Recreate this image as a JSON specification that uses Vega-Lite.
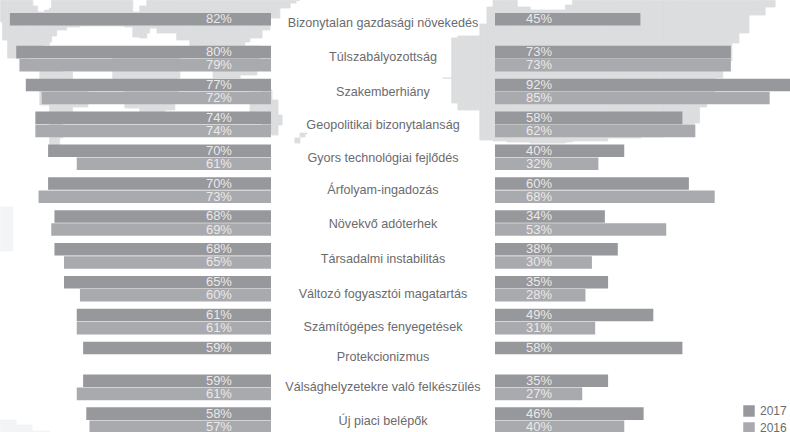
{
"$schema":"https://vega.github.io/schema/vega-lite/v6.json",
"padding":0,
"autosize":{"type":"pad"},
"background":"white",
"bounds":"flush",
"resolve":{"scale":{"color":"independent"}},
"config":{"view":{"stroke":null},"concat":{"spacing":0},"text":{"font":"Liberation Sans"}},
"datasets":{
"rows":[
{"item":"Bizonytalan gazdasági növekedés","year":"2017","left":0.82,"right":0.45},
{"item":"Túlszabályozottság","year":"2017","left":0.80,"right":0.73},
{"item":"Túlszabályozottság","year":"2016","left":0.79,"right":0.73},
{"item":"Szakemberhiány","year":"2017","left":0.77,"right":0.92},
{"item":"Szakemberhiány","year":"2016","left":0.72,"right":0.85},
{"item":"Geopolitikai bizonytalanság","year":"2017","left":0.74,"right":0.58},
{"item":"Geopolitikai bizonytalanság","year":"2016","left":0.74,"right":0.62},
{"item":"Gyors technológiai fejlődés","year":"2017","left":0.70,"right":0.40},
{"item":"Gyors technológiai fejlődés","year":"2016","left":0.61,"right":0.32},
{"item":"Árfolyam-ingadozás","year":"2017","left":0.70,"right":0.60},
{"item":"Árfolyam-ingadozás","year":"2016","left":0.73,"right":0.68},
{"item":"Növekvő adóterhek","year":"2017","left":0.68,"right":0.34},
{"item":"Növekvő adóterhek","year":"2016","left":0.69,"right":0.53},
{"item":"Társadalmi instabilitás","year":"2017","left":0.68,"right":0.38},
{"item":"Társadalmi instabilitás","year":"2016","left":0.65,"right":0.30},
{"item":"Változó fogyasztói magatartás","year":"2017","left":0.65,"right":0.35},
{"item":"Változó fogyasztói magatartás","year":"2016","left":0.60,"right":0.28},
{"item":"Számítógépes fenyegetések","year":"2017","left":0.61,"right":0.49},
{"item":"Számítógépes fenyegetések","year":"2016","left":0.61,"right":0.31},
{"item":"Protekcionizmus","year":"2017","left":0.59,"right":0.58},
{"item":"Válsághelyzetekre való felkészülés","year":"2017","left":0.59,"right":0.35},
{"item":"Válsághelyzetekre való felkészülés","year":"2016","left":0.61,"right":0.27},
{"item":"Új piaci belépők","year":"2017","left":0.58,"right":0.46},
{"item":"Új piaci belépők","year":"2016","left":0.57,"right":0.40}
],
"world":[
{"piece":"north","tone":"map","s":0.849,"t":-12.5,"b":2},
{"piece":"north","tone":"map","s":0.843,"t":-12.5,"b":9},
{"piece":"north","tone":"map","s":0.827,"t":-12.5,"b":27},
{"piece":"north","tone":"map","s":0.799,"t":-12.5,"b":45},
{"piece":"north","tone":"map","s":0.764,"t":-12.5,"b":45},
{"piece":"north","tone":"map","s":0.748,"t":-12.5,"b":43},
{"piece":"north","tone":"map","s":0.733,"t":-7,"b":41},
{"piece":"north","tone":"map","s":0.711,"t":-1,"b":35},
{"piece":"north","tone":"map","s":0.695,"t":-3,"b":32},
{"piece":"north","tone":"map","s":0.689,"t":-5,"b":29},
{"piece":"north","tone":"map","s":0.673,"t":-12.5,"b":23},
{"piece":"north","tone":"map","s":0.642,"t":-12.5,"b":17},
{"piece":"north","tone":"map","s":0.601,"t":-12.5,"b":14},
{"piece":"north","tone":"map","s":0.459,"t":-12.5,"b":13},
{"piece":"north","tone":"map","s":0.434,"t":-12.5,"b":14},
{"piece":"north","tone":"map","s":0.412,"t":-1,"b":24},
{"piece":"north","tone":"map","s":0.390,"t":-7,"b":25},
{"piece":"north","tone":"map","s":0.381,"t":-12.5,"b":20},
{"piece":"north","tone":"map","s":0.358,"t":-12.5,"b":15},
{"piece":"north","tone":"map","s":0.296,"t":-12.5,"b":20},
{"piece":"north","tone":"map","s":0.255,"t":-12.5,"b":27},
{"piece":"north","tone":"map","s":0.239,"t":-12.5,"b":33},
{"piece":"north","tone":"map","s":0.082,"t":-12.5,"b":33},
{"piece":"north","tone":"map","s":0.066,"t":-12.5,"b":29},
{"piece":"north","tone":"map","s":0.028,"t":-12.5,"b":25},
{"piece":"north","tone":"map","s":0.003,"t":-12.5,"b":17},
{"piece":"north","tone":"map","s":-0.028,"t":-12.5,"b":5},
{"piece":"north","tone":"map","s":-0.060,"t":-12.5,"b":-5},
{"piece":"north","tone":"map","s":-0.079,"t":-12.5,"b":-10},
{"piece":"north","tone":"map","s":-0.091,"t":-12.5,"b":-12.5},
{"piece":"americas","tone":"map","s":0.726,"t":57,"b":61},
{"piece":"americas","tone":"map","s":0.695,"t":55,"b":92},
{"piece":"americas","tone":"map","s":0.679,"t":55,"b":133},
{"piece":"americas","tone":"map","s":0.664,"t":55,"b":133},
{"piece":"americas","tone":"map","s":0.654,"t":57,"b":125},
{"piece":"americas","tone":"map","s":0.623,"t":59,"b":99},
{"piece":"americas","tone":"map","s":0.575,"t":77,"b":94},
{"piece":"americas","tone":"map","s":0.569,"t":82,"b":84},
{"piece":"africa","tone":"map","s":0.497,"t":47,"b":65},
{"piece":"africa","tone":"map","s":0.459,"t":37,"b":67},
{"piece":"africa","tone":"map","s":0.412,"t":37,"b":95},
{"piece":"africa","tone":"map","s":0.390,"t":37,"b":99},
{"piece":"africa","tone":"map","s":0.333,"t":37,"b":100},
{"piece":"africa","tone":"map","s":0.302,"t":37,"b":97},
{"piece":"africa","tone":"map","s":0.292,"t":37,"b":87},
{"piece":"africa","tone":"map","s":0.286,"t":37,"b":65},
{"piece":"seasia","tone":"map","s":0.182,"t":33,"b":63},
{"piece":"seasia","tone":"map","s":0.145,"t":33,"b":65},
{"piece":"seasia","tone":"map","s":0.097,"t":33,"b":65},
{"piece":"seasia","tone":"map","s":0.044,"t":33,"b":62},
{"piece":"seasia","tone":"map","s":0.035,"t":33,"b":47},
{"piece":"australia","tone":"map","s":0.066,"t":90,"b":99},
{"piece":"australia","tone":"map","s":0.028,"t":79,"b":109},
{"piece":"australia","tone":"map","s":-0.003,"t":77,"b":121},
{"piece":"australia","tone":"map","s":-0.022,"t":87,"b":122},
{"piece":"australia","tone":"map","s":-0.035,"t":102,"b":112},
{"piece":"nz","tone":"map","s":-0.075,"t":130,"b":133},
{"piece":"nz","tone":"map","s":-0.091,"t":125,"b":130},
{"piece":"nz","tone":"map","s":-0.107,"t":120,"b":124},
{"piece":"nz","tone":"map","s":-0.113,"t":120,"b":121},
{"piece":"hex1","tone":"pale","s":0.849,"t":190,"b":252},
{"piece":"hex1","tone":"pale","s":0.811,"t":194,"b":238},
{"piece":"hex2","tone":"pale","s":0.849,"t":402,"b":419},
{"piece":"hex2","tone":"pale","s":0.800,"t":407,"b":419},
{"piece":"hex2","tone":"pale","s":0.750,"t":412,"b":419},
{"piece":"hex2","tone":"pale","s":0.695,"t":418,"b":419}
],
"hungary":[
{"piece":"hu","s":-0.162,"t":65,"b":65},
{"piece":"hu","s":-0.134,"t":25,"b":90},
{"piece":"hu","s":-0.115,"t":23,"b":97},
{"piece":"hu","s":-0.047,"t":11,"b":127},
{"piece":"hu","s":-0.025,"t":-6,"b":127},
{"piece":"hu","s":-0.006,"t":-12.5,"b":128},
{"piece":"hu","s":0.037,"t":-12.5,"b":129},
{"piece":"hu","s":0.069,"t":-6,"b":129},
{"piece":"hu","s":0.109,"t":-3,"b":130},
{"piece":"hu","s":0.171,"t":-3,"b":130},
{"piece":"hu","s":0.218,"t":-8,"b":129},
{"piece":"hu","s":0.240,"t":-12.5,"b":128},
{"piece":"hu","s":0.349,"t":-12.5,"b":125},
{"piece":"hu","s":0.452,"t":-12.5,"b":124},
{"piece":"hu","s":0.524,"t":-12.5,"b":120},
{"piece":"hu","s":0.617,"t":-12.5,"b":110},
{"piece":"hu","s":0.633,"t":-12.5,"b":94},
{"piece":"hu","s":0.655,"t":-12.5,"b":80},
{"piece":"hu","s":0.680,"t":-12.5,"b":65},
{"piece":"hu","s":0.705,"t":-12.5,"b":48},
{"piece":"hu","s":0.733,"t":-12.5,"b":30},
{"piece":"hu","s":0.755,"t":-12.5,"b":20},
{"piece":"hu","s":0.786,"t":-12.5,"b":2},
{"piece":"hu","s":0.836,"t":-12.5,"b":-6},
{"piece":"hu","s":0.867,"t":-12.5,"b":-12.5}
]
},
"data":{"name":"rows"},
"hconcat":[
{"width":271,"height":420,
 "resolve":{"scale":{"y":"independent"}},
 "layer":[
  {"data":{"name":"world"},"transform":[{"filter":"datum.tone==='pale'"},{"window":[{"op":"lead","field":"s","as":"s2"}],"groupby":["piece"],"sort":[{"field":"s","order":"ascending"}]},{"filter":"datum.s2!=null"}],
   "mark":{"type":"rect","color":"#f3f4f6","stroke":"#f3f4f6","strokeWidth":0.8},
   "encoding":{
    "x":{"field":"s","type":"quantitative","axis":null,"scale":{"domain":[0,0.851],"reverse":true,"nice":false}},
    "x2":{"field":"s2"},
    "y":{"field":"t","type":"quantitative","axis":null,"scale":{"domain":[0,420],"reverse":true,"nice":false,"zero":false}},
    "y2":{"field":"b"}}},
  {"data":{"name":"world"},"transform":[{"filter":"datum.tone==='map'"},{"window":[{"op":"lead","field":"s","as":"s2"}],"groupby":["piece"],"sort":[{"field":"s","order":"ascending"}]},{"filter":"datum.s2!=null"}],
   "mark":{"type":"rect","color":"#dcddde","stroke":"#dcddde","strokeWidth":0.8},
   "encoding":{
    "x":{"field":"s","type":"quantitative","axis":null},
    "x2":{"field":"s2"},
    "y":{"field":"t","type":"quantitative","axis":null,"scale":{"domain":[0,420],"reverse":true,"nice":false,"zero":false}},
    "y2":{"field":"b"}}},
  {"layer":[
   {"mark":{"type":"bar"},"encoding":{
    "y":{"field":"item","type":"nominal","sort":null,"axis":null,"scale":{"paddingInner":0.22,"paddingOuter":0}},
    "yOffset":{"field":"year","type":"nominal","sort":["2017","2016"],"scale":{"paddingInner":0.04}},
    "x":{"field":"left","type":"quantitative","axis":null},
    "color":{"field":"year","type":"nominal","legend":null,"scale":{"domain":["2017","2016"],"range":["#97989c","#a9aaae"]}}}},
   {"mark":{"type":"text","align":"right","fontSize":13,"color":"#e9e9ea","baseline":"middle"},"encoding":{
    "y":{"field":"item","type":"nominal","sort":null,"axis":null},
    "yOffset":{"field":"year","type":"nominal","sort":["2017","2016"]},
    "x":{"datum":0.1227,"type":"quantitative"},
    "text":{"field":"left","type":"quantitative","format":".0%"}}}
  ]}
 ]},
{"width":224,"height":420,
 "transform":[{"filter":"datum.year==='2017'"}],
 "encoding":{
  "y":{"field":"item","type":"nominal","axis":null,"scale":{"type":"band","paddingInner":0.22,"paddingOuter":0,"domain":["Bizonytalan gazdasági növekedés","Túlszabályozottság","Szakemberhiány","Geopolitikai bizonytalanság","Gyors technológiai fejlődés","Árfolyam-ingadozás","Növekvő adóterhek","Társadalmi instabilitás","Változó fogyasztói magatartás","Számítógépes fenyegetések","Protekcionizmus","Válsághelyzetekre való felkészülés","Új piaci belépők"]}},
  "text":{"field":"item","type":"nominal"}
 },
 "layer":[
  {"transform":[{"filter":{"field":"item","oneOf":["Bizonytalan gazdasági növekedés"]}}],"mark":{"type":"text","fontSize":12.6,"color":"#6a6b6e","baseline":"middle","dy":-3}},
  {"transform":[{"filter":{"field":"item","oneOf":["Túlszabályozottság"]}}],"mark":{"type":"text","fontSize":12.6,"color":"#6a6b6e","baseline":"middle","dy":-1.5}},
  {"transform":[{"filter":{"field":"item","oneOf":["Szakemberhiány","Árfolyam-ingadozás","Válsághelyzetekre való felkészülés"]}}],"mark":{"type":"text","fontSize":12.6,"color":"#6a6b6e","baseline":"middle","dy":0}},
  {"transform":[{"filter":{"field":"item","oneOf":["Geopolitikai bizonytalanság","Gyors technológiai fejlődés","Növekvő adóterhek","Új piaci belépők"]}}],"mark":{"type":"text","fontSize":12.6,"color":"#6a6b6e","baseline":"middle","dy":1}},
  {"transform":[{"filter":{"field":"item","oneOf":["Társadalmi instabilitás","Protekcionizmus"]}}],"mark":{"type":"text","fontSize":12.6,"color":"#6a6b6e","baseline":"middle","dy":3}},
  {"transform":[{"filter":{"field":"item","oneOf":["Változó fogyasztói magatartás","Számítógépes fenyegetések"]}}],"mark":{"type":"text","fontSize":12.6,"color":"#6a6b6e","baseline":"middle","dy":5}}
 ]},
{"width":295,"height":420,
 "resolve":{"scale":{"y":"independent"}},
 "layer":[
  {"data":{"name":"hungary"},"transform":[{"window":[{"op":"lead","field":"s","as":"s2"}],"sort":[{"field":"s","order":"ascending"}]},{"filter":"datum.s2!=null"}],
   "mark":{"type":"rect","color":"#dcddde","stroke":"#dcddde","strokeWidth":0.8},
   "encoding":{
    "x":{"field":"s","type":"quantitative","axis":null,"scale":{"domain":[0,0.913],"nice":false}},
    "x2":{"field":"s2"},
    "y":{"field":"t","type":"quantitative","axis":null,"scale":{"domain":[0,420],"reverse":true,"nice":false,"zero":false}},
    "y2":{"field":"b"}}},
  {"layer":[
   {"mark":{"type":"bar"},"encoding":{
    "y":{"field":"item","type":"nominal","sort":null,"axis":null,"scale":{"paddingInner":0.22,"paddingOuter":0}},
    "yOffset":{"field":"year","type":"nominal","sort":["2017","2016"],"scale":{"paddingInner":0.04}},
    "x":{"field":"right","type":"quantitative","axis":null},
    "color":{"field":"year","type":"nominal","scale":{"domain":["2017","2016"],"range":["#97989c","#a9aaae"]},
      "legend":{"title":null,"orient":"none","legendX":248,"legendY":392,"symbolType":"square","symbolSize":132,"symbolStrokeWidth":0,"symbolOpacity":1,"labelFont":"Liberation Sans","labelFontSize":12,"labelColor":"#6a6b6e","rowPadding":5,"labelOffset":5}}}},
   {"mark":{"type":"text","align":"right","fontSize":13,"color":"#e9e9ea","baseline":"middle"},"encoding":{
    "y":{"field":"item","type":"nominal","sort":null,"axis":null},
    "yOffset":{"field":"year","type":"nominal","sort":["2017","2016"]},
    "x":{"datum":0.1765,"type":"quantitative"},
    "text":{"field":"right","type":"quantitative","format":".0%"}}}
  ]}
 ]}
]
}
